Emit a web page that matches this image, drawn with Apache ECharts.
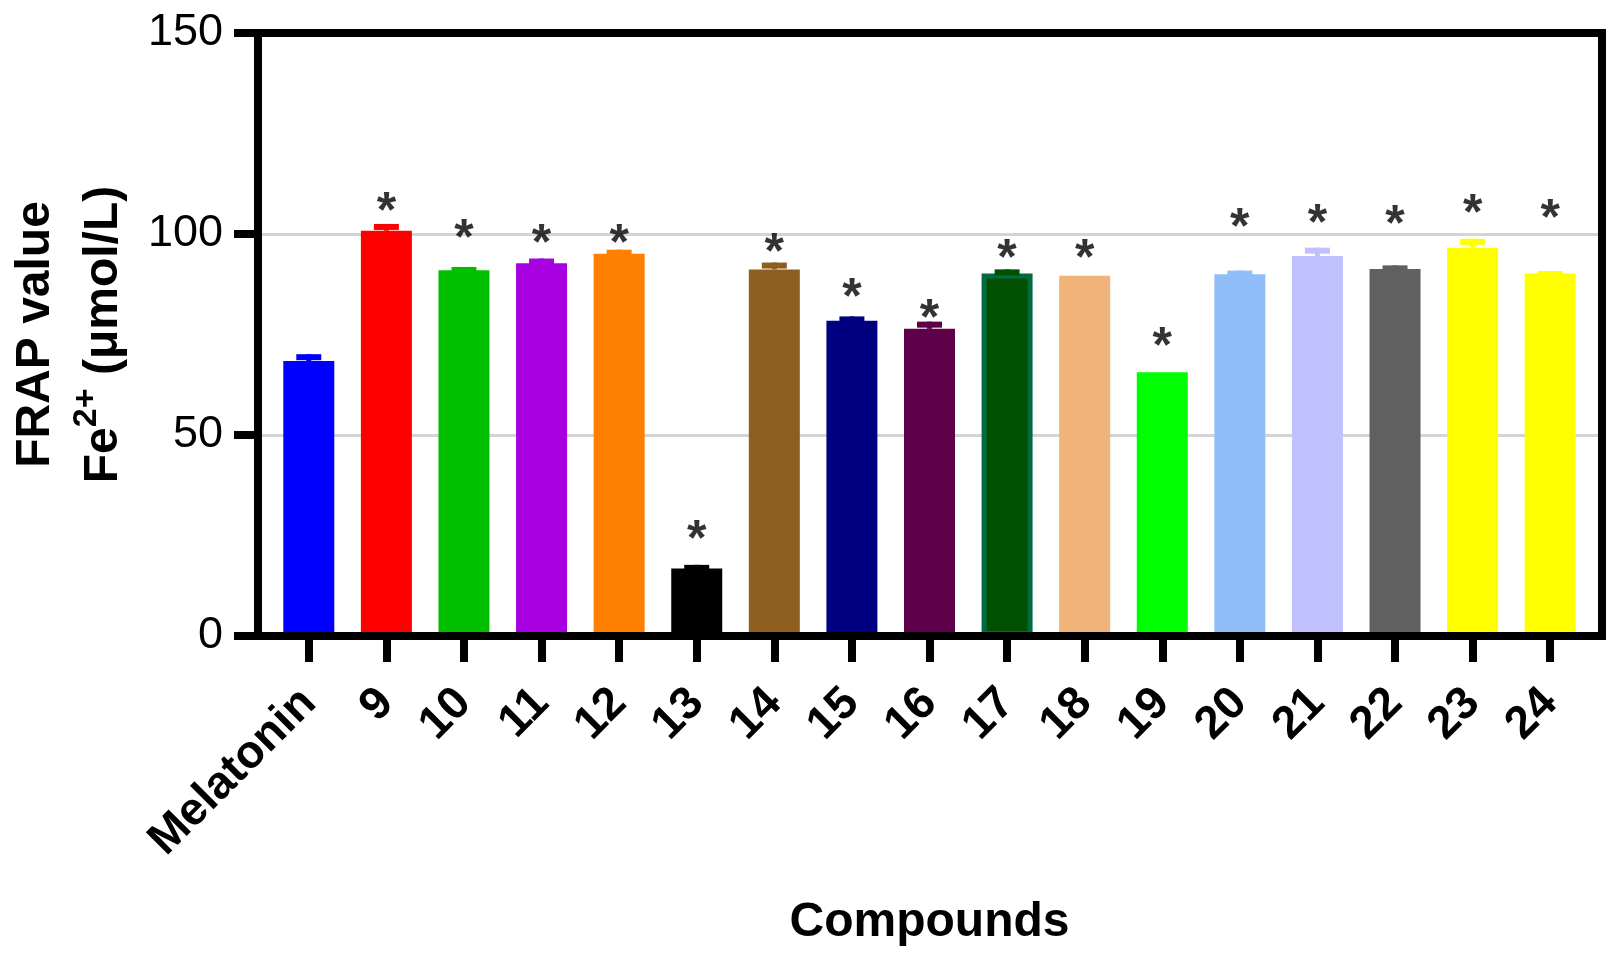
<!DOCTYPE html>
<html>
<head>
<meta charset="utf-8">
<title>FRAP value</title>
<script src="https://cdn.jsdelivr.net/npm/echarts@6/dist/echarts.min.js"></script>
<style>
  html, body { margin: 0; padding: 0; background: #fff; }
  #chart { width: 1622px; height: 964px; }
</style>
</head>
<body>
<div id="chart"></div>
<script>
// data
const compounds = ['Melatonin', '9', '10', '11', '12', '13', '14', '15', '16',
  '17', '18', '19', '20', '21', '22', '23', '24'];
const frapMean = [68.4, 100.8, 91.0, 92.7, 95.1, 16.8, 91.2, 78.4, 76.4,
  90.2, 89.6, 65.6, 90.0, 94.5, 91.3, 96.6, 90.2];
const frapSem = [1.7, 1.7, 0.8, 1.2, 1.0, 0.9, 1.7, 1.1, 1.8,
  1.0, 0, 0, 0.9, 2.1, 0.9, 2.2, 0.6];
// height of the "*" significance mark over each bar (null = none)
const starLevel = [null, 108.5, 101.7, 100.5, 100.5, 26.9, 98.1, 86.9, 81.9,
  96.8, 96.8, 74.9, 104.3, 105.5, 105.1, 108.0, 106.7];
const barColors = ['#0000ff', '#ff0000', '#00bf00', '#a800e0', '#ff8000', '#000000',
  '#8e5e1f', '#000080', '#5f004b', '#005000', '#f0b47a', '#00ff00', '#90bef8',
  '#c0c0ff', '#606060', '#ffff00', '#ffff00'];

const font = '"Liberation Sans", Arial, sans-serif';

const chart = echarts.init(document.getElementById('chart'));

const barData = frapMean.map(function (v, i) {
  const item = { value: v, itemStyle: { color: barColors[i] } };
  if (compounds[i] === '17') {
    item.itemStyle.borderColor = '#006b40';
    item.itemStyle.borderWidth = 5;
  }
  return item;
});

const errData = frapMean.map(function (v, i) { return [i, v, frapSem[i]]; });

const starData = [];
starLevel.forEach(function (v, i) {
  if (v != null) starData.push([i, v]);
});

chart.setOption({
  backgroundColor: '#fff',
  animation: false,
  textStyle: { fontFamily: font },
  grid: [
    // frame around the plot
    { left: 258, right: 20, top: 33, bottom: 328, show: true, z: 10,
      borderColor: '#000', borderWidth: 8, backgroundColor: 'transparent' },
    // bars
    { left: 270, right: 33, top: 33, bottom: 328 }
  ],
  xAxis: [
    { gridIndex: 0, type: 'value', show: false, min: 0, max: 1 },
    {
      gridIndex: 1, type: 'category', data: compounds,
      axisLine: { show: false },
      axisTick: { show: true, alignWithLabel: true, length: 26, lineStyle: { color: '#000', width: 8 } },
      axisLabel: { interval: 0, rotate: 45, margin: 60, fontSize: 46, fontWeight: 'bold', color: '#000', fontFamily: font },
      name: 'Compounds', nameLocation: 'middle', nameGap: 263,
      nameTextStyle: { fontSize: 48, fontWeight: 'bold', color: '#000', fontFamily: font }
    }
  ],
  yAxis: [
    {
      gridIndex: 0, type: 'value', min: 0, max: 150, interval: 50,
      axisLine: { show: false },
      axisTick: { show: true, length: 24, lineStyle: { color: '#000', width: 8 } },
      axisLabel: { margin: 35, fontSize: 45, color: '#000', fontFamily: font },
      splitLine: { show: true, lineStyle: { color: '#d4d4d4', width: 3 } },
      name: '{t|FRAP value}\n{t|Fe}{s|2+}{t| (μmol/L)}',
      nameLocation: 'middle', nameRotate: 90, nameGap: 120,
      nameTextStyle: {
        color: '#000',
        rich: {
          t: { fontSize: 48, fontWeight: 'bold', color: '#000', fontFamily: font, lineHeight: 68 },
          s: { fontSize: 34, fontWeight: 'bold', color: '#000', fontFamily: font, lineHeight: 40, verticalAlign: 'top' }
        }
      }
    },
    { gridIndex: 1, type: 'value', min: 0, max: 150, show: false }
  ],
  series: [
    {
      type: 'bar', xAxisIndex: 1, yAxisIndex: 1,
      barWidth: 51, data: barData, z: 2
    },
    {
      type: 'custom', xAxisIndex: 1, yAxisIndex: 1, z: 3,
      data: errData,
      encode: { x: 0, y: 1 },
      renderItem: function (params, api) {
        const i = api.value(0);
        const sem = api.value(2);
        if (!(sem > 0)) return;
        const base = api.coord([i, api.value(1)]);
        const top = api.coord([i, api.value(1) + sem]);
        const col = barColors[i];
        return {
          type: 'group',
          children: [
            { type: 'line', shape: { x1: base[0], y1: base[1], x2: base[0], y2: top[1] },
              style: { stroke: col, lineWidth: 5 } },
            { type: 'line', shape: { x1: top[0] - 12.5, y1: top[1] + 3, x2: top[0] + 12.5, y2: top[1] + 3 },
              style: { stroke: col, lineWidth: 6 } }
          ]
        };
      }
    },
    {
      type: 'scatter', xAxisIndex: 1, yAxisIndex: 1, z: 4,
      data: starData, symbolSize: 1,
      itemStyle: { color: 'rgba(0,0,0,0)' },
      label: {
        show: true, position: 'inside', formatter: '*', offset: [0, 13],
        fontSize: 50, fontWeight: 'bold', color: '#000', fontFamily: font,
        textBorderWidth: 0
      }
    }
  ]
});
</script>
</body>
</html>
